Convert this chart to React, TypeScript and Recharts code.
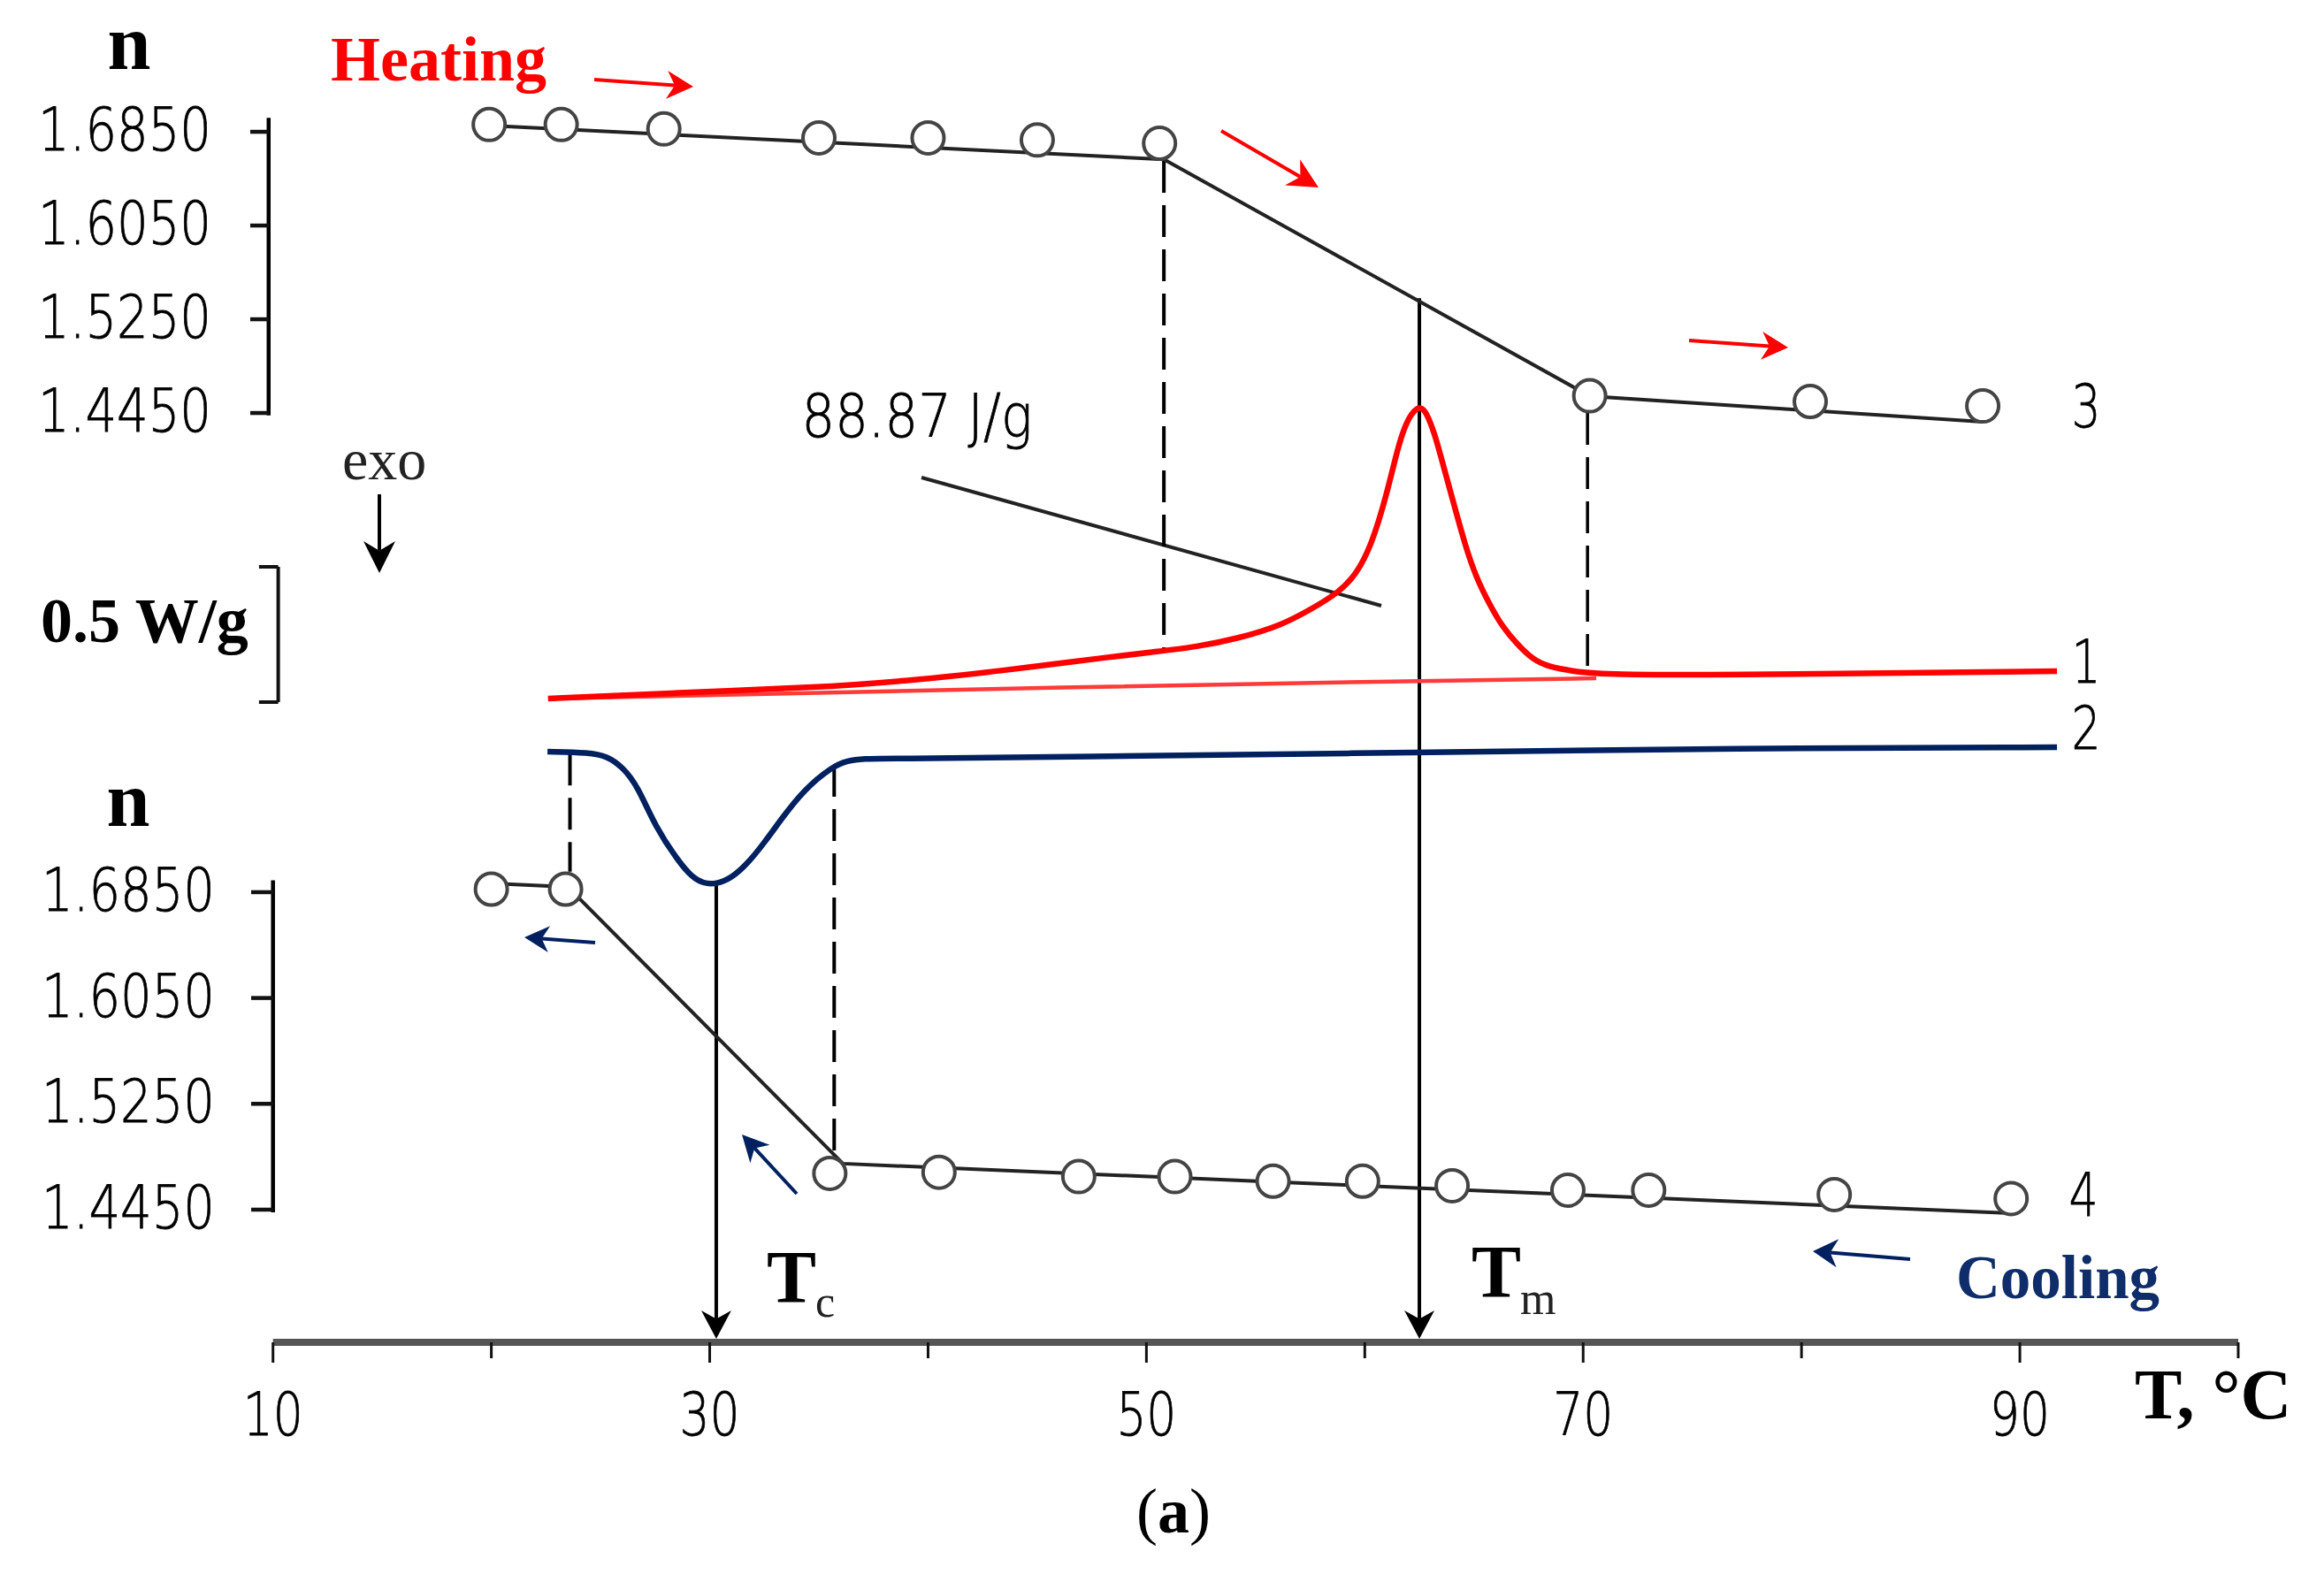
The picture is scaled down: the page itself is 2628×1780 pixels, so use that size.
import { ComposedChart, Line, XAxis, YAxis, ReferenceLine } from 'recharts';

// temperature axis
const tempTicks = [10, 20, 30, 40, 50, 60, 70, 80, 90, 100];
const tempLabels = [10, 30, 50, 70, 90];

// refractive index ticks, same for both panels
const nTicks = [1.445, 1.525, 1.605, 1.685];

// curve 3, heating: measured circles
const heatDotT = [19.9, 23.2, 27.9, 35.0, 40.0, 45.0, 50.6, 70.3, 80.4, 88.3];
const heatDotN = [1.6912, 1.6912, 1.6874, 1.6798, 1.6798, 1.678, 1.6752, 1.4597, 1.4548, 1.451];
// curve 3, heating: drawn trend line
const heatLineT = [19.9, 50.8, 70.3, 88.3];
const heatLineN = [1.6903, 1.6615, 1.4594, 1.4375];

// curve 4, cooling: measured circles
const coolDotT = [20.0, 23.4, 35.5, 40.5, 46.9, 51.3, 55.8, 59.9, 64.0, 69.3, 73.0, 81.5, 89.6];
const coolDotN = [1.6873, 1.6873, 1.4724, 1.4733, 1.47, 1.47, 1.4665, 1.4665, 1.4631, 1.4597, 1.4597, 1.4564, 1.4534];
// curve 4, cooling: drawn trend line
const coolLineT = [20.0, 23.5, 36.1, 89.6];
const coolLineN = [1.6917, 1.689, 1.4798, 1.4423];

// DSC curve 1 (melting), W/g with arbitrary zero
const meltT = [22.6, 28.0, 34.8, 39.6, 43.7, 46.1, 50.8, 52.2, 54.2, 56.2, 57.6, 58.8, 59.6, 60.3, 61.0, 61.5, 61.9, 62.3, 62.55, 62.8, 63.2, 63.6, 64.0, 64.6, 65.1, 65.7, 66.3, 67.0, 67.7, 68.4, 69.5, 71.1, 77.1, 91.7];
const meltW = [0.013, 0.033, 0.053, 0.082, 0.119, 0.145, 0.19, 0.203, 0.235, 0.284, 0.346, 0.405, 0.471, 0.578, 0.765, 0.938, 1.036, 1.082, 1.09, 1.075, 0.993, 0.873, 0.755, 0.578, 0.461, 0.363, 0.278, 0.212, 0.157, 0.131, 0.114, 0.101, 0.101, 0.114];
const baseT = [22.6, 46.1, 62.5, 70.6];
const baseW = [0.013, 0.054, 0.078, 0.088];

// DSC curve 2 (crystallisation)
const crystT = [22.57, 24.5, 25.3, 26.0, 26.7, 27.5, 28.6, 29.2, 29.7, 30.3, 31.0, 31.7, 32.5, 33.3, 34.3, 35.6, 36.3, 37.1, 38.0, 46.1, 62.5, 77.1, 91.7];
const crystW = [-0.183, -0.186, -0.2, -0.239, -0.31, -0.46, -0.592, -0.647, -0.67, -0.673, -0.65, -0.6, -0.52, -0.43, -0.325, -0.239, -0.216, -0.209, -0.209, -0.203, -0.186, -0.17, -0.167];

const toN = (ts: number[], ns: number[]) => ts.map((t, i) => ({ t, v: ns[i] }));

const WIDTH = 2628;
const HEIGHT = 1780;

const SERIF = '"Liberation Serif", serif';
const THIN = '"DejaVu Sans", sans-serif';
const RED = '#ff0000';
const NAVY = '#002060';
const INK = '#222222';

const Arrow = ({ x1, y1, x2, y2, color = '#000', width = 3, len = 30, half = 15 }: any) => {
  const a = Math.atan2(y2 - y1, x2 - x1);
  const cos = Math.cos(a);
  const sin = Math.sin(a);
  const bx = x2 - len * cos;
  const by = y2 - len * sin;
  const nx = x2 - len * 0.7 * cos;
  const ny = y2 - len * 0.7 * sin;
  const pts = `${x2},${y2} ${bx - half * sin},${by + half * cos} ${nx},${ny} ${bx + half * sin},${by - half * cos}`;
  return (
    <g>
      <line x1={x1} y1={y1} x2={nx} y2={ny} stroke={color} strokeWidth={width} />
      <polygon points={pts} fill={color} />
    </g>
  );
};

// the original labels are a narrow, light sans, so squeeze DejaVu to the measured width
const thinText = (x: number, y: number, content: string, length: number, anchor = 'middle') => (
  <text
    x={x}
    y={y}
    textAnchor={anchor}
    fontFamily={THIN}
    fontWeight={200}
    fontSize={67}
    fill="#000"
    stroke="#000"
    strokeWidth={0.8}
    textLength={length}
    lengthAdjust="spacingAndGlyphs"
  >
    {content}
  </text>
);

const nTick = (axisX: number, labelX: number, tickLen: number) => (props: any) => {
  const { y, payload } = props;
  return (
    <g>
      <line x1={axisX - tickLen} x2={axisX} y1={y} y2={y} stroke="#111" strokeWidth={4.5} />
      {thinText(labelX, y + 21, payload.value.toFixed(4), 196, 'end')}
    </g>
  );
};

const TempTick = (props: any) => {
  const { x, y, payload } = props;
  const major = tempLabels.includes(payload.value);
  return (
    <g>
      <line x1={x} x2={x} y1={y} y2={y + (major ? 23 : 18)} stroke="#111" strokeWidth={3} />
      {major && thinText(x, y + 105, String(payload.value), 68)}
    </g>
  );
};

const serifText = (x: number, y: number, size: number, content: string, fill = '#000', weight = 'bold', anchor = 'start') => (
  <text x={x} y={y} fontFamily={SERIF} fontSize={size} fontWeight={weight} fill={fill} textAnchor={anchor}>
    {content}
  </text>
);

const arrowShape = (props: any) => <Arrow x1={props.x1} y1={props.y1} x2={props.x2} y2={props.y2} width={4} len={32} half={17} />;

const segProps = { yAxisId: 'dsc', ifOverflow: 'visible' as const };

export default function App() {
  return (
    <div style={{ position: 'absolute', left: 0, top: 0, width: WIDTH, height: HEIGHT, background: '#fff' }}>
      <ComposedChart width={WIDTH} height={HEIGHT} margin={{ top: 20, right: 97, bottom: 261, left: 306.7 }}>
        <XAxis
          dataKey="t"
          type="number"
          domain={[10, 100]}
          ticks={tempTicks}
          interval={0}
          height={1}
          tickSize={0}
          tickMargin={0}
          tickLine={false}
          tick={TempTick}
          axisLine={{ stroke: '#555', strokeWidth: 8 }}
        />
        <YAxis yAxisId="nTop" type="number" domain={[0.6518, 1.7824]} ticks={nTicks} interval={0} width={1} tickSize={0} tickMargin={0} tickLine={false} axisLine={false} tick={nTick(304, 239, 21)} />
        <YAxis yAxisId="nBottom" type="number" domain={[1.3447, 2.3461]} ticks={nTicks} interval={0} width={1} tickSize={0} tickMargin={0} tickLine={false} axisLine={false} tick={nTick(309, 243, 25)} />
        <YAxis yAxisId="dsc" type="number" domain={[-2.366, 2.5294]} hide width={0} />

        {/* axis spines of the two n panels and the 0.5 W/g scale bar */}
        <ReferenceLine yAxisId="nTop" ifOverflow="visible" stroke="#000" strokeWidth={4.5} segment={[{ x: 9.8, y: 1.443 }, { x: 9.8, y: 1.697 }]} />
        <ReferenceLine yAxisId="nBottom" ifOverflow="visible" stroke="#000" strokeWidth={4.5} segment={[{ x: 10, y: 1.443 }, { x: 10, y: 1.694 }]} />
        <ReferenceLine {...segProps} stroke="#111" strokeWidth={4} segment={[{ x: 10.24, y: 0 }, { x: 10.24, y: 0.5 }]} />
        <ReferenceLine {...segProps} stroke="#111" strokeWidth={4} segment={[{ x: 9.36, y: 0.5 }, { x: 10.24, y: 0.5 }]} />
        <ReferenceLine {...segProps} stroke="#111" strokeWidth={4} segment={[{ x: 9.36, y: 0 }, { x: 10.24, y: 0 }]} />

        {/* drop lines */}
        <ReferenceLine {...segProps} stroke="#000" strokeWidth={4} strokeDasharray="36 14" segment={[{ x: 50.8, y: 2.0 }, { x: 50.8, y: 0.19 }]} />
        <ReferenceLine {...segProps} stroke="#000" strokeWidth={3.5} strokeDasharray="36 14" segment={[{ x: 70.2, y: 1.069 }, { x: 70.2, y: 0.101 }]} />
        <ReferenceLine {...segProps} stroke="#000" strokeWidth={4} strokeDasharray="36 14" segment={[{ x: 23.6, y: -0.19 }, { x: 23.6, y: -0.627 }]} />
        <ReferenceLine {...segProps} stroke="#000" strokeWidth={4} strokeDasharray="36 14" segment={[{ x: 35.7, y: -0.232 }, { x: 35.7, y: -1.68 }]} />
        <ReferenceLine {...segProps} shape={arrowShape} segment={[{ x: 62.5, y: 1.493 }, { x: 62.5, y: -2.353 }]} />
        <ReferenceLine {...segProps} shape={arrowShape} segment={[{ x: 30.3, y: -0.673 }, { x: 30.3, y: -2.353 }]} />

        <Line data={toN(baseT, baseW)} dataKey="v" yAxisId="dsc" type="linear" stroke="#ff3a3a" strokeWidth={4.5} dot={false} isAnimationActive={false} />
        <Line data={toN(meltT, meltW)} dataKey="v" yAxisId="dsc" type="basis" stroke={RED} strokeWidth={6.5} dot={false} isAnimationActive={false} />
        <Line data={toN(crystT, crystW)} dataKey="v" yAxisId="dsc" type="basis" stroke={NAVY} strokeWidth={6.5} dot={false} isAnimationActive={false} />

        <Line data={toN(heatLineT, heatLineN)} dataKey="v" yAxisId="nTop" type="linear" stroke="#222" strokeWidth={4} dot={false} isAnimationActive={false} />
        <Line data={toN(coolLineT, coolLineN)} dataKey="v" yAxisId="nBottom" type="linear" stroke="#222" strokeWidth={4} dot={false} isAnimationActive={false} />
        <Line data={toN(heatDotT, heatDotN)} dataKey="v" yAxisId="nTop" stroke="none" dot={{ r: 18, fill: '#fff', stroke: '#444', strokeWidth: 4 }} isAnimationActive={false} />
        <Line data={toN(coolDotT, coolDotN)} dataKey="v" yAxisId="nBottom" stroke="none" dot={{ r: 18, fill: '#fff', stroke: '#444', strokeWidth: 4 }} isAnimationActive={false} />

        {/* annotations */}
        <g>
          {serifText(146, 78, 88, 'n', '#000', 'bold', 'middle')}
          {serifText(145, 934, 88, 'n', '#000', 'bold', 'middle')}
          {serifText(374, 91, 72, 'Heating', RED)}
          {serifText(387, 542, 66, 'exo', INK, 'normal')}
          {serifText(46, 726, 72, '0.5 W/g')}
          {serifText(2212, 1468, 69, 'Cooling', '#0f2d6b')}
          {serifText(2414, 1604, 80, 'T, °C')}
          {serifText(867, 1473, 84, 'T')}
          {serifText(922, 1489, 50, 'c', INK, 'normal')}
          {serifText(1664, 1467, 84, 'T')}
          {serifText(1719, 1486, 52, 'm', INK, 'normal')}
          <text x={1327} y={1733} fontFamily={SERIF} fontSize={72} textAnchor="middle" fill="#000">
            (<tspan fontWeight="bold">a</tspan>)
          </text>
          {thinText(1037, 494, '88.87 J/g', 261)}
          {thinText(2359, 483, '3', 33)}
          {thinText(2359, 772, '1', 33)}
          {thinText(2359, 847, '2', 33)}
          {thinText(2356, 1375, '4', 33)}
          <line x1={1042} y1={540} x2={1562} y2={685} stroke="#222" strokeWidth={4} />
          <Arrow x1={429} y1={559} x2={429} y2={648} width={4} len={36} half={18} />
          <Arrow x1={672} y1={90} x2={784} y2={98} color={RED} width={4} len={30} half={16} />
          <Arrow x1={1381} y1={148} x2={1491} y2={212} color={RED} width={4} len={34} half={17} />
          <Arrow x1={1910} y1={385} x2={2022} y2={393} color={RED} width={4} len={30} half={16} />
          <Arrow x1={673} y1={1066} x2={593} y2={1060} color={NAVY} width={4} len={28} half={15} />
          <Arrow x1={901} y1={1350} x2={839} y2={1283} color={NAVY} width={4} len={30} half={15} />
          <Arrow x1={2160} y1={1424} x2={2050} y2={1415} color={NAVY} width={4} len={28} half={16} />
        </g>
      </ComposedChart>
    </div>
  );
}
